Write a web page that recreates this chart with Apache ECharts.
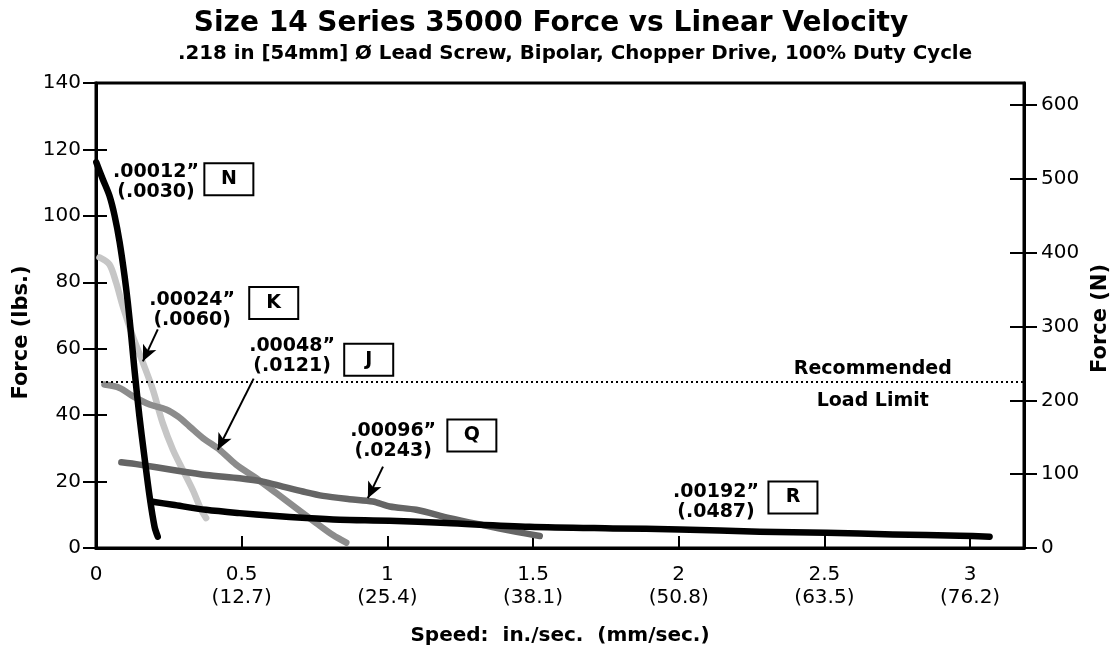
<!DOCTYPE html>
<html><head><meta charset="utf-8">
<script src="https://cdn.jsdelivr.net/npm/echarts@6/dist/echarts.min.js"></script>
<style>html,body{margin:0;padding:0;background:#fff}#c{width:1115px;height:645px}</style>
</head><body><div id="c"></div>
<script>
// ---- data (speed in./sec, force lbs) ----
const curveN = [[0.001,116.1],[0.023,111.1],[0.046,106.1],[0.064,100.0],[0.081,92.1],[0.098,81.9],[0.109,74.0],[0.121,63.8],[0.132,53.7],[0.149,39.6],[0.166,27.6],[0.184,15.5],[0.201,6.4],[0.212,3.4]];
const curveK = [[0.012,87.5],[0.046,85.4],[0.069,79.9],[0.092,72.8],[0.126,63.8],[0.161,55.8],[0.195,47.7],[0.229,37.6],[0.264,29.6],[0.298,23.5],[0.332,17.5],[0.361,11.5],[0.378,9.0]];
const curveJ = [[0.029,49.2],[0.081,48.2],[0.126,45.7],[0.184,43.2],[0.241,41.7],[0.281,39.6],[0.321,36.6],[0.367,33.1],[0.424,29.6],[0.481,25.1],[0.550,21.0],[0.619,16.5],[0.687,12.0],[0.756,7.5],[0.813,3.9],[0.859,1.6]];
const curveQ = [[0.087,25.8],[0.149,25.1],[0.264,23.5],[0.378,22.0],[0.493,21.0],[0.573,20.0],[0.641,18.5],[0.710,17.0],[0.779,15.7],[0.870,14.7],[0.950,14.0],[1.008,12.5],[1.099,11.5],[1.214,9.0],[1.328,6.9],[1.443,4.9],[1.523,3.6]];
const curveR = [[0.189,14.0],[0.264,13.0],[0.378,11.5],[0.493,10.5],[0.607,9.7],[0.722,9.0],[0.836,8.5],[1.008,8.2],[1.202,7.5],[1.488,6.4],[1.774,5.9],[2.003,5.6],[2.278,4.9],[2.507,4.6],[2.735,4.1],[2.964,3.7],[3.067,3.4]];
const xTickLabels = ['0','0.5\n(12.7)','1\n(25.4)','1.5\n(38.1)','2\n(50.8)','2.5\n(63.5)','3\n(76.2)'];
const noteTexts = ['.00012\u201D\n(.0030)','.00024\u201D\n(.0060)','.00048\u201D\n(.0121)','.00096\u201D\n(.0243)','.00192\u201D\n(.0487)'];
const noteLetters = ['N','K','J','Q','R'];
const loadLimit = 50;
const limitText = ['Recommended','Load Limit'];

// ---- layout (annotation anchors in data units) ----
const notePos = [[0.206,110.1],[0.330,71.7],[0.673,57.9],[1.020,32.3],[2.128,13.7]];
const boxPos = [[0.456,111.0],[0.610,73.8],[0.936,56.7],[1.290,33.9],[2.392,15.2]];
const limitTextPos = [[2.666,54.0],[2.666,44.2]];
const arrows = [[[0.212,65.8],[0.161,56.2]],[[0.541,51.0],[0.418,29.6]],[[0.985,24.5],[0.933,15.0]]];

const FF = 'DejaVu Sans';
const chart = echarts.init(document.getElementById('c'), null, {renderer:'canvas'});

function curve(name, data, color){
  return {type:'line', name, data, smooth:0.3, symbol:'none', yAxisIndex:0,
    lineStyle:{color, width:6.5, cap:'round', join:'round'}, z:3, silent:true};
}
const noBorder = {textBorderWidth:0, textBorderColor:'transparent', textShadowBlur:0, opacity:1};
const labelItems = [];
notePos.forEach((p,i)=>labelItems.push({value:p, label:{show:true, position:'inside', formatter:noteTexts[i],
  fontFamily:FF, fontWeight:'bold', fontSize:19, lineHeight:20, color:'#000', align:'center', ...noBorder}}));
boxPos.forEach((p,i)=>labelItems.push({value:p, label:{show:true, position:'inside', formatter:noteLetters[i],
  fontFamily:FF, fontWeight:'bold', fontSize:19, color:'#000', align:'center', verticalAlign:'middle',
  width:47, height:30, lineHeight:30, borderColor:'#000', borderWidth:2, backgroundColor:'#fff', ...noBorder}}));
limitTextPos.forEach((p,i)=>labelItems.push({value:p, label:{show:true, position:'inside', formatter:limitText[i],
  fontFamily:FF, fontWeight:'bold', fontSize:19, color:'#000', ...noBorder}}));

const tickLabelStyle = {fontFamily:FF, fontSize:20, color:'#000'};
const option = {
  animation:false,
  backgroundColor:'#fff',
  title:[
    {text:'Size 14 Series 35000 Force vs Linear Velocity', left:551, top:10, textAlign:'center', padding:0,
     textStyle:{fontFamily:FF, fontWeight:'bold', fontSize:28, color:'#000'}},
    {text:'.218 in [54mm] \u00D8 Lead Screw, Bipolar, Chopper Drive, 100% Duty Cycle', left:575, top:44, textAlign:'center', padding:0,
     textStyle:{fontFamily:FF, fontWeight:'bold', fontSize:19.8, color:'#000'}}
  ],
  grid:{left:96, right:91, top:83, bottom:97, show:true, borderColor:'#000', borderWidth:3, backgroundColor:'transparent',
    containLabel:false, outerBoundsMode:'none'},
  xAxis:{type:'value', min:0, max:3.185, interval:0.5,
    name:'Speed:  in./sec.  (mm/sec.)', nameLocation:'middle', nameGap:78,
    nameTextStyle:{fontFamily:FF, fontWeight:'bold', fontSize:20, color:'#000'},
    axisLine:{lineStyle:{color:'#000', width:3}},
    axisTick:{inside:true, length:12, lineStyle:{color:'#000', width:2}},
    axisLabel:{...tickLabelStyle, margin:15, lineHeight:23, showMaxLabel:false,
      formatter:v=>{const i=Math.round(v/0.5); return Math.abs(v-i*0.5)<1e-6 && xTickLabels[i]!==undefined ? xTickLabels[i] : '';}},
    splitLine:{show:false}},
  yAxis:[
    {type:'value', position:'left', min:0, max:140, interval:20,
     name:'Force (lbs.)', nameLocation:'middle', nameGap:56, nameRotate:90,
     nameTextStyle:{fontFamily:FF, fontWeight:'bold', fontSize:21, color:'#000', padding:[0,34,0,0]},
     axisLine:{show:true, lineStyle:{color:'#000', width:3}},
     axisTick:{show:true, inside:false, length:13, lineStyle:{color:'#000', width:2}},
     axisLabel:{...tickLabelStyle, margin:15}, splitLine:{show:false}},
    {type:'value', position:'left', min:0, max:140, interval:20,
     axisLine:{show:false}, axisTick:{show:true, inside:true, length:11, lineStyle:{color:'#000', width:2}},
     axisLabel:{show:false}, splitLine:{show:false}},
    {type:'value', position:'right', min:0, max:630, interval:100,
     name:'Force (N)', nameLocation:'middle', nameGap:49, nameRotate:90,
     nameTextStyle:{fontFamily:FF, fontWeight:'bold', fontSize:21, color:'#000', padding:[0,6,0,0]},
     axisLine:{show:true, lineStyle:{color:'#000', width:3}},
     axisTick:{show:true, inside:false, length:13, lineStyle:{color:'#000', width:2}},
     axisLabel:{...tickLabelStyle, margin:17, showMaxLabel:false}, splitLine:{show:false}},
    {type:'value', position:'right', min:0, max:630, interval:100,
     axisLine:{show:false}, axisTick:{show:true, inside:true, length:14, lineStyle:{color:'#000', width:2}},
     axisLabel:{show:false}, splitLine:{show:false}}
  ],
  series:[
    curve('K', curveK, '#c6c6c6'),
    curve('J', curveJ, '#8c8c8c'),
    curve('Q', curveQ, '#656565'),
    curve('N', curveN, '#000'),
    curve('R', curveR, '#000'),
    {type:'line', data:[], yAxisIndex:0, silent:true,
     markLine:{silent:true, symbol:'none', label:{show:false}, animation:false,
       lineStyle:{color:'#000', width:2, type:[2,3]},
       data:[{yAxis:loadLimit}]}},
    {type:'line', data:[], yAxisIndex:0, silent:true,
     markLine:{silent:true, symbol:['none','arrow'], symbolSize:[11,16], label:{show:false}, animation:false,
       lineStyle:{color:'#000', width:2, type:'solid'},
       data:arrows.map(a=>[{coord:a[0]},{coord:a[1]}])}},
    {type:'scatter', yAxisIndex:0, symbolSize:0, silent:true, z:10, itemStyle:{opacity:1}, data:labelItems}
  ]
};
chart.setOption(option);
</script></body></html>
